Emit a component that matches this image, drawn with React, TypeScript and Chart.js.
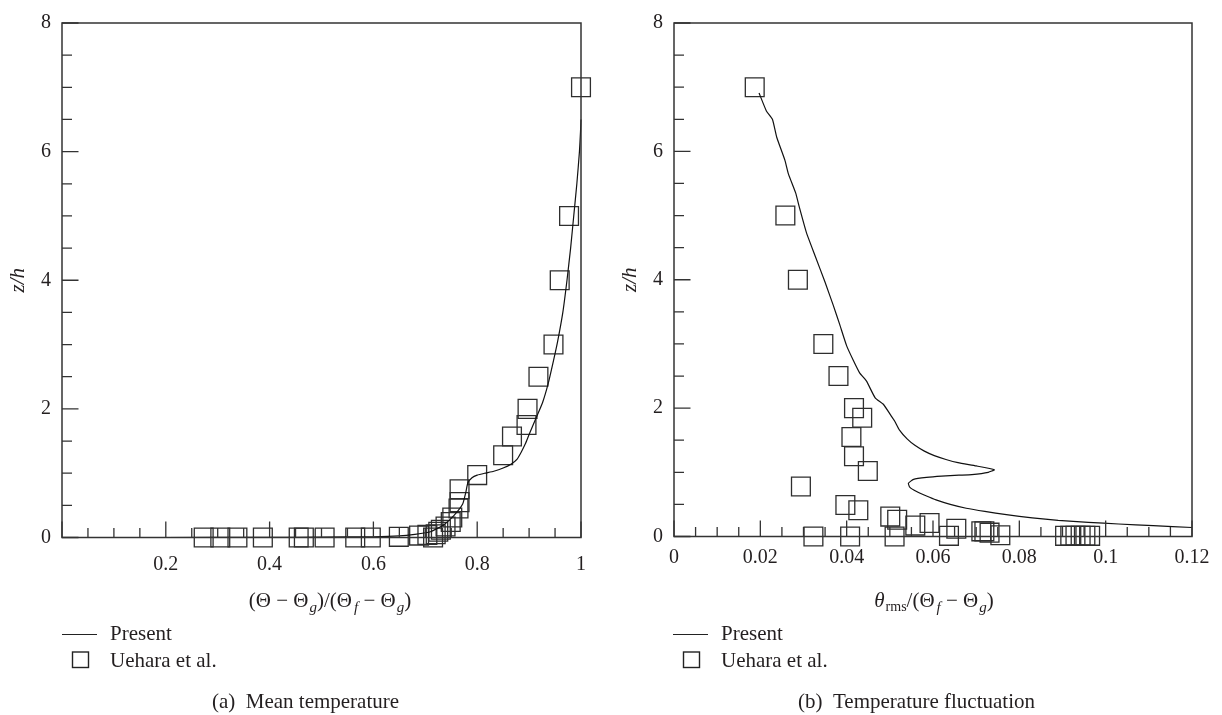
import React, { useEffect, useRef } from 'react';
import { Chart, registerables } from 'chart.js';

Chart.register(...registerables);

// ---------- Panel (a): mean temperature ----------
const meanLineX = [0, 0.2, 0.4, 0.5, 0.6, 0.65, 0.68, 0.71, 0.736, 0.755, 0.772, 0.778, 0.782, 0.79, 0.8, 0.815, 0.832, 0.85, 0.865, 0.877, 0.885, 0.893, 0.9, 0.913, 0.926, 0.937, 0.947, 0.955, 0.965, 0.973, 0.98, 0.986, 0.992, 0.997, 0.999, 1.0];
const meanLineZ = [0, 0, 0.002, 0.006, 0.012, 0.025, 0.05, 0.09, 0.2, 0.34, 0.52, 0.7, 0.85, 0.93, 0.97, 1.0, 1.03, 1.08, 1.14, 1.22, 1.33, 1.46, 1.6, 1.85, 2.1, 2.4, 2.75, 3.05, 3.5, 4.0, 4.5, 5.0, 5.5, 6.0, 6.3, 6.5];
const meanObsX = [0.273, 0.305, 0.338, 0.387, 0.456, 0.466, 0.506, 0.565, 0.595, 0.649, 0.688, 0.704, 0.715, 0.72, 0.725, 0.73, 0.739, 0.749, 0.752, 0.764, 0.766, 0.766, 0.8, 0.85, 0.867, 0.895, 0.897, 0.918, 0.947, 0.959, 0.977, 1.0];
const meanObsZ = [0, 0, 0, 0, 0, 0, 0, 0, 0, 0.01, 0.03, 0.04, 0.0, 0.05, 0.09, 0.12, 0.17, 0.24, 0.31, 0.45, 0.55, 0.75, 0.97, 1.28, 1.57, 1.75, 2.0, 2.5, 3.0, 4.0, 5.0, 7.0];

// ---------- Panel (b): temperature fluctuation ----------
const flucLineX = [0.0197, 0.0214, 0.0228, 0.0238, 0.0257, 0.0265, 0.0282, 0.029, 0.0307, 0.0327, 0.035, 0.0369, 0.0384, 0.04, 0.0415, 0.043, 0.0446, 0.0466, 0.0485, 0.0502, 0.0511, 0.0522, 0.054, 0.0558, 0.058, 0.0603, 0.063, 0.0658, 0.07, 0.0742, 0.0728, 0.069, 0.066, 0.062, 0.0585, 0.0555, 0.0543, 0.0546, 0.0562, 0.0585, 0.0607, 0.064, 0.0677, 0.072, 0.077, 0.083, 0.089, 0.096, 0.103, 0.111, 0.12];
const flucLineZ = [6.91, 6.63, 6.5, 6.22, 5.86, 5.65, 5.35, 5.14, 4.73, 4.37, 3.96, 3.6, 3.3, 2.97, 2.75, 2.55, 2.42, 2.16, 2.06, 1.89, 1.8, 1.66, 1.52, 1.42, 1.33, 1.26, 1.2, 1.15, 1.1, 1.04, 1.0, 0.965, 0.955, 0.94, 0.92, 0.89, 0.83, 0.77, 0.7, 0.63, 0.57, 0.5, 0.44, 0.39, 0.34, 0.29, 0.25, 0.22, 0.195, 0.17, 0.14];
const flucObsX = [0.0187, 0.0258, 0.0287, 0.0346, 0.0381, 0.0417, 0.0436, 0.0411, 0.0417, 0.0449, 0.0294, 0.0397, 0.0427, 0.0501, 0.0517, 0.0559, 0.0592, 0.0637, 0.0654, 0.0712, 0.0719, 0.0731, 0.0756, 0.0323, 0.0408, 0.0511, 0.0906, 0.0918, 0.093, 0.0942, 0.0953, 0.0964];
const flucObsZ = [7, 5, 4, 3, 2.5, 2.0, 1.85, 1.55, 1.25, 1.02, 0.78, 0.49, 0.41, 0.31, 0.26, 0.17, 0.21, 0.01, 0.12, 0.08, 0.08, 0.06, 0.02, 0, 0, 0, 0.01, 0.01, 0.01, 0.01, 0.01, 0.01];

// ---------- Axes / text ----------
const zMax = 8;
const zLabelStep = 2;
const zMinorStep = 0.5;
const meanXMax = 1;
const meanXLabelStep = 0.2;
const meanXMinorStep = 0.05;
const flucXMax = 0.12;
const flucXLabelStep = 0.02;
const flucXMinorStep = 0.005;

const yTitle = 'z/h';
const seriesNames = ['Present', 'Uehara et al.'];
const captions = ['(a)  Mean temperature', '(b)  Temperature fluctuation'];

const SERIF = '"Liberation Serif", "DejaVu Serif", serif';
const INK = '#231f20';
const W = 611;
const H = 715;

type Seg = { t: string; font: string; dy?: number; dx?: number };

const MAIN = `21px ${SERIF}`;
const SUBI = `italic 15px ${SERIF}`;

const meanTitle: Seg[] = [
  { t: '(Θ − Θ', font: MAIN },
  { t: 'g', font: SUBI, dy: 5, dx: 1 },
  { t: ')/(Θ', font: MAIN },
  { t: 'f', font: SUBI, dy: 5, dx: 2 },
  { t: ' − Θ', font: MAIN },
  { t: 'g', font: SUBI, dy: 5, dx: 1 },
  { t: ')', font: MAIN },
];
const flucTitle: Seg[] = [
  { t: 'θ', font: `italic 21px ${SERIF}` },
  { t: 'rms', font: `14px ${SERIF}`, dy: 4, dx: 1 },
  { t: '/(Θ', font: MAIN },
  { t: 'f', font: SUBI, dy: 5, dx: 2 },
  { t: ' − Θ', font: MAIN },
  { t: 'g', font: SUBI, dy: 5, dx: 1 },
  { t: ')', font: MAIN },
];

function drawRich(ctx: CanvasRenderingContext2D, segs: Seg[], cx: number, baseline: number) {
  const widths = segs.map((s) => {
    ctx.font = s.font;
    return ctx.measureText(s.t).width + (s.dx || 0);
  });
  const total = widths.reduce((a, b) => a + b, 0);
  let x = cx - total / 2;
  ctx.textAlign = 'left';
  ctx.textBaseline = 'alphabetic';
  segs.forEach((s, i) => {
    ctx.font = s.font;
    ctx.fillText(s.t, x + (s.dx || 0), baseline + (s.dy || 0));
    x += widths[i];
  });
}

interface PanelCfg {
  lineX: number[];
  lineZ: number[];
  obsX: number[];
  obsZ: number[];
  xMax: number;
  xLabelStep: number;
  xMinorStep: number;
  hideZeroX: boolean;
  title: Seg[];
  titleCx: number;
  caption: string;
  chartLeft: number;
  chartBottom: number;
  xLabelPad: number;
}

function makeDecor(cfg: PanelCfg) {
  return {
    id: 'decor',
    afterDraw(chart: any) {
      const { ctx, chartArea: a, scales } = chart;
      const xs = scales.x;
      const ys = scales.y;
      ctx.save();
      ctx.strokeStyle = '#333';
      ctx.lineWidth = 1.5;
      ctx.strokeRect(a.left, a.top, a.right - a.left, a.bottom - a.top);

      ctx.lineWidth = 1.3;
      ctx.beginPath();
      const nY = Math.round(zMax / zMinorStep);
      const yEvery = Math.round(zLabelStep / zMinorStep);
      for (let i = 0; i <= nY; i++) {
        const p = ys.getPixelForValue(i * zMinorStep);
        const len = i % yEvery === 0 ? 16.5 : 10;
        ctx.moveTo(a.left, p);
        ctx.lineTo(a.left + len, p);
      }
      const nX = Math.round(cfg.xMax / cfg.xMinorStep);
      const xEvery = Math.round(cfg.xLabelStep / cfg.xMinorStep);
      for (let i = 0; i <= nX; i++) {
        const p = xs.getPixelForValue(i * cfg.xMinorStep);
        const len = i % xEvery === 0 ? 16 : 9.5;
        ctx.moveTo(p, a.bottom);
        ctx.lineTo(p, a.bottom - len);
      }
      ctx.stroke();

      ctx.fillStyle = INK;
      // y title
      ctx.save();
      ctx.translate(a.left - 44, (a.top + a.bottom) / 2);
      ctx.rotate(-Math.PI / 2);
      ctx.font = `italic 21px ${SERIF}`;
      ctx.textAlign = 'center';
      ctx.textBaseline = 'middle';
      ctx.fillText(yTitle, 0, 0);
      ctx.restore();

      // x title
      drawRich(ctx, cfg.title, cfg.titleCx, 607);

      // legend
      ctx.strokeStyle = '#222';
      ctx.lineWidth = 1.2;
      ctx.beginPath();
      ctx.moveTo(62, 634.5);
      ctx.lineTo(97, 634.5);
      ctx.stroke();
      ctx.lineWidth = 1.4;
      ctx.strokeRect(72.5, 652, 16, 15.5);
      ctx.font = `21px ${SERIF}`;
      ctx.textAlign = 'left';
      ctx.textBaseline = 'alphabetic';
      ctx.fillText(seriesNames[0], 110, 640);
      ctx.fillText(seriesNames[1], 110, 667);

      // caption
      ctx.textAlign = 'center';
      ctx.fillText(cfg.caption, W / 2, 708);
      ctx.restore();
    },
  };
}

function Panel({ cfg, left }: { cfg: PanelCfg; left: number }) {
  const ref = useRef<HTMLCanvasElement>(null);
  useEffect(() => {
    const lineData = cfg.lineX.map((x, i) => ({ x, y: cfg.lineZ[i] }));
    const obsData = cfg.obsX.map((x, i) => ({ x, y: cfg.obsZ[i] }));
    const chart = new Chart(ref.current as HTMLCanvasElement, {
      type: 'scatter',
      data: {
        datasets: [
          {
            label: seriesNames[0],
            data: lineData,
            showLine: true,
            pointRadius: 0,
            borderColor: '#111',
            borderWidth: 1.2,
            tension: 0.15,
            clip: false,
          } as any,
          {
            label: seriesNames[1],
            data: obsData,
            showLine: false,
            pointStyle: 'rect',
            pointRadius: 13.3,
            borderColor: '#2e2e2e',
            borderWidth: 1.3,
            backgroundColor: 'rgba(0,0,0,0)',
            clip: false,
          } as any,
        ],
      },
      options: {
        responsive: false,
        animation: false,
        events: [],
        layout: { padding: { top: 15, right: W - 581, left: 0, bottom: 0 } },
        plugins: { legend: { display: false }, tooltip: { enabled: false } },
        scales: {
          x: {
            type: 'linear',
            position: 'bottom',
            min: 0,
            max: cfg.xMax,
            grid: { display: false, drawTicks: false },
            border: { display: false },
            afterFit: (s: any) => {
              s.height = H - cfg.chartBottom;
            },
            ticks: {
              stepSize: cfg.xLabelStep,
              autoSkip: false,
              maxRotation: 0,
              padding: cfg.xLabelPad,
              color: INK,
              font: { family: SERIF, size: 20 },
              callback: (v: any) => {
                const n = Number(v);
                if (cfg.hideZeroX && Math.abs(n) < 1e-9) return '';
                return String(parseFloat(n.toFixed(4)));
              },
            },
          },
          y: {
            type: 'linear',
            min: 0,
            max: zMax,
            grid: { display: false, drawTicks: false },
            border: { display: false },
            afterFit: (s: any) => {
              s.width = cfg.chartLeft;
            },
            ticks: {
              stepSize: zLabelStep,
              autoSkip: false,
              padding: 11,
              color: INK,
              font: { family: SERIF, size: 20 },
            },
          },
        },
      },
      plugins: [makeDecor(cfg)],
    });
    return () => chart.destroy();
  }, []);
  return (
    <canvas
      ref={ref}
      width={W}
      height={H}
      style={{ position: 'absolute', left, top: 0, width: W, height: H }}
    />
  );
}

const meanCfg: PanelCfg = {
  lineX: meanLineX,
  lineZ: meanLineZ,
  obsX: meanObsX,
  obsZ: meanObsZ,
  xMax: meanXMax,
  xLabelStep: meanXLabelStep,
  xMinorStep: meanXMinorStep,
  hideZeroX: true,
  title: meanTitle,
  titleCx: 330,
  caption: captions[0],
  chartLeft: 62,
  chartBottom: 537.5,
  xLabelPad: 15,
};

const flucCfg: PanelCfg = {
  lineX: flucLineX,
  lineZ: flucLineZ,
  obsX: flucObsX,
  obsZ: flucObsZ,
  xMax: flucXMax,
  xLabelStep: flucXLabelStep,
  xMinorStep: flucXMinorStep,
  hideZeroX: false,
  title: flucTitle,
  titleCx: 323,
  caption: captions[1],
  chartLeft: 63,
  chartBottom: 536.5,
  xLabelPad: 9.5,
};

export default function App() {
  return (
    <div style={{ position: 'fixed', left: 0, top: 0, width: 1222, height: 715, background: '#fff' }}>
      <Panel cfg={meanCfg} left={0} />
      <Panel cfg={flucCfg} left={611} />
    </div>
  );
}
